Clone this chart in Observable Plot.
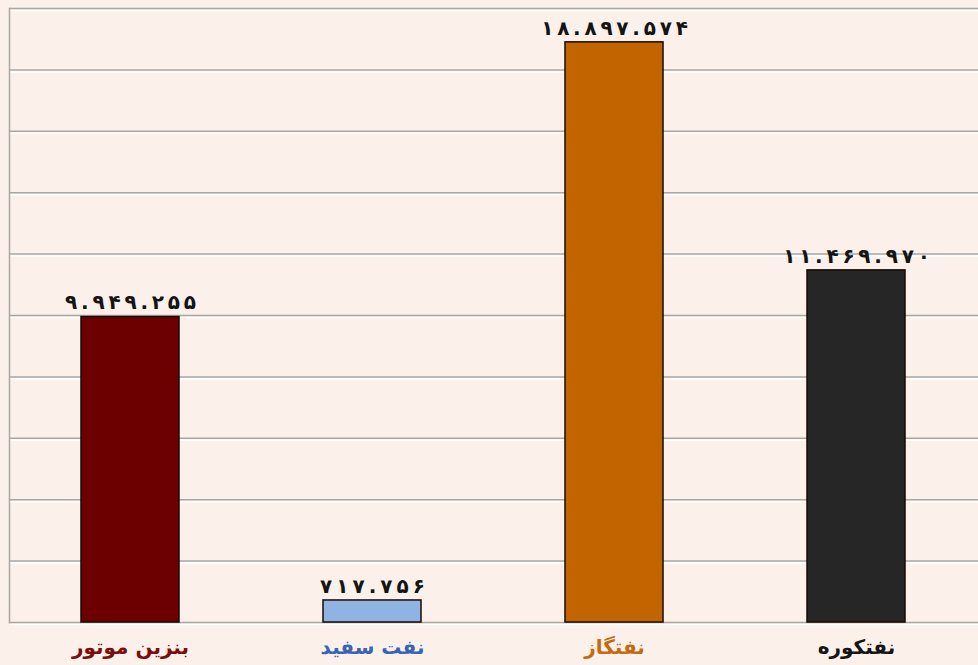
<!DOCTYPE html>
<html><head><meta charset="utf-8">
<script src="https://cdn.jsdelivr.net/npm/d3@7"></script>
<script src="https://cdn.jsdelivr.net/npm/@observablehq/plot@0.6"></script>
<style>
html,body{margin:0;padding:0;background:#fcf1ea;}
svg{display:block;}
</style></head>
<body><div id="chart"></div>
<script>
const categories = ["بنزین موتور", "نفت سفید", "نفتگاز", "نفتکوره"];
const values = [9949255, 717756, 18897574, 11469970];
const barColors = ["#6c0000", "#8fb4e3", "#c26500", "#262626"];
const labelColors = ["#7c0d0d", "#3a62b5", "#c46a10", "#151515"];
const yTicks = [0, 2000000, 4000000, 6000000, 8000000, 10000000, 12000000, 14000000, 16000000, 18000000, 20000000];

const faDigits = "۰۱۲۳۴۵۶۷۸۹";
const fmt = v => String(v).replace(/\B(?=(\d{3})+(?!\d))/g, ".").replace(/\d/g, d => faDigits[d]);

const data = categories.map((c, i) => ({category: c, value: values[i], bar: barColors[i], lab: labelColors[i]}));
const font = "'DejaVu Sans', sans-serif";

const chart = Plot.plot({
  width: 978,
  height: 665,
  marginLeft: 9,
  marginRight: 0,
  marginTop: 8,
  marginBottom: 43,
  style: {background: "#fcf1ea", fontFamily: font},
  x: {domain: categories, paddingInner: 0.595, paddingOuter: 0.2975, axis: null},
  y: {domain: [0, 20000000], axis: null},
  marks: [
    Plot.gridY(yTicks, {stroke: "#ffffff", strokeOpacity: 1, strokeWidth: 1.5, dy: 2}),
    Plot.gridY(yTicks, {stroke: "#a9a6a4", strokeOpacity: 1, strokeWidth: 1.5}),
    Plot.frame({anchor: "left", stroke: "#a9a6a4", strokeWidth: 1.5}),
    Plot.barY(data, {x: "category", y: "value", fill: "bar", stroke: "#1a0a00", strokeWidth: 1.5}),
    Plot.text(data, {x: "category", y: "value", text: d => fmt(d.value), dy: -14, fontSize: 20, fontWeight: "bold", fill: "#141414"}),
    Plot.text(data, {x: "category", text: "category", frameAnchor: "bottom", dy: 31, fontSize: 20, fontWeight: "bold", fill: "lab"})
  ]
});
document.getElementById("chart").appendChild(chart);
// widen digit spacing of the value labels
d3.select(chart).selectAll("text").filter(function() { return /[۰-۹]/.test(this.textContent); })
  .each(function() {
    const w = this.getComputedTextLength();
    this.setAttribute("textLength", (w * 1.3).toFixed(1));
    this.setAttribute("lengthAdjust", "spacing");
  });
</script>
</body></html>
